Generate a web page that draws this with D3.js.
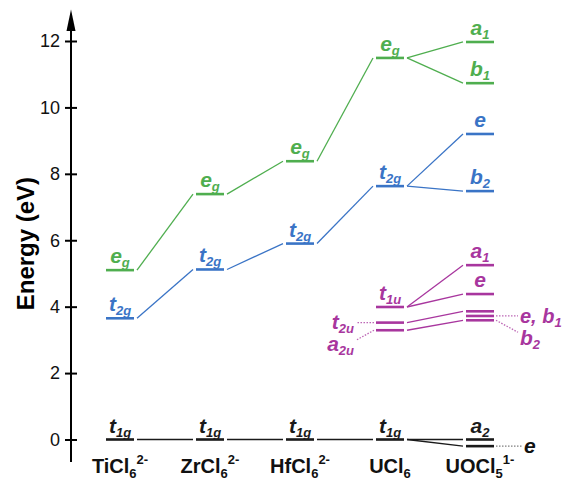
<!DOCTYPE html>
<html lang="en">
<head>
<meta charset="UTF-8">
<title>MO energy levels</title>
<script src="https://d3js.org/d3.v7.min.js"></script>
<style>
    body { margin: 0; background: white; }
    svg { font-family: "Liberation Sans", Arial, sans-serif; }
    .tick text { font-size: 18px; }
    .lab { font-weight: bold; font-style: italic; }
    .cmp { font-weight: bold; font-size: 20px; }
</style>
</head>
<body>
<script>
    const width = 564, height = 486;

    const compounds = ["TiCl6", "ZrCl6", "HfCl6", "UCl6", "UOCl5"];
    const cmpBase = ["TiCl", "ZrCl", "HfCl", "UCl", "UOCl"];
    const cmpSub = ["6", "6", "6", "6", "5"];
    const cmpSup = ["2-", "2-", "2-", "", "1-"];
    const yTicks = [0, 2, 4, 6, 8, 10, 12];

    // [compound, energy eV, label, subscript]  ('' label = labelled at side)
    const green = [
        ["TiCl6", 5.10, "e", "g"], ["ZrCl6", 7.39, "e", "g"], ["HfCl6", 8.38, "e", "g"],
        ["UCl6", 11.49, "e", "g"], ["UOCl5", 11.97, "a", "1"], ["UOCl5", 10.73, "b", "1"]
    ];
    const greenLinks = [[0, 1], [1, 2], [2, 3], [3, 4], [3, 5]];

    const blue = [
        ["TiCl6", 3.65, "t", "2g"], ["ZrCl6", 5.12, "t", "2g"], ["HfCl6", 5.90, "t", "2g"],
        ["UCl6", 7.63, "t", "2g"], ["UOCl5", 9.20, "e", ""], ["UOCl5", 7.48, "b", "2"]
    ];
    const blueLinks = [[0, 1], [1, 2], [2, 3], [3, 4], [3, 5]];

    const black = [
        ["TiCl6", 0, "t", "1g"], ["ZrCl6", 0, "t", "1g"], ["HfCl6", 0, "t", "1g"],
        ["UCl6", 0, "t", "1g"], ["UOCl5", 0, "a", "2"], ["UOCl5", -0.2, "", ""]
    ];
    const blackLinks = [[0, 1], [1, 2], [2, 3], [3, 4], [3, 5]];

    const purple = [
        ["UCl6", 3.99, "t", "1u"], ["UCl6", 3.52, "", ""], ["UCl6", 3.29, "", ""],
        ["UOCl5", 5.25, "a", "1"], ["UOCl5", 4.38, "e", ""],
        ["UOCl5", 3.86, "", ""], ["UOCl5", 3.72, "", ""], ["UOCl5", 3.59, "", ""]
    ];
    const purpleLinks = [[0, 3], [0, 4], [1, 5], [2, 7]];

    const series = [
        { lv: green, links: greenLinks, color: "#4fae4f" },
        { lv: blue, links: blueLinks, color: "#3a74c6" },
        { lv: black, links: blackLinks, color: "#1a1a1a" },
        { lv: purple, links: purpleLinks, color: "#a8369e" }
    ];

    const svg = d3.select("body").append("svg")
        .attr("width", width).attr("height", height);

    const x = d3.scalePoint().domain(compounds).range([120, 480]);
    const y = d3.scaleLinear().domain([0, 12]).range([439.5, 41]);
    const half = 14, gap = 3;

    // axis
    const axis = svg.append("g")
        .attr("transform", "translate(71,0)")
        .call(d3.axisLeft(y).tickValues(yTicks).tickSize(6).tickPadding(5));
    axis.select(".domain").remove();
    axis.selectAll(".tick line").attr("x1", -6).attr("x2", 6).attr("stroke-width", 2);
    axis.selectAll(".tick text").attr("fill", "#111");

    svg.append("line")
        .attr("x1", 71).attr("x2", 71)
        .attr("y1", y(-0.68)).attr("y2", y(12.5))
        .attr("stroke", "#000").attr("stroke-width", 2);
    svg.append("path")
        .attr("d", `M71,${y(12.95)} L66.5,${y(12.3)} L75.5,${y(12.3)} Z`)
        .attr("fill", "#000");

    svg.append("text")
        .attr("class", "cmp")
        .attr("transform", `translate(34,${y(5.9)}) rotate(-90)`)
        .attr("text-anchor", "middle")
        .style("font-size", "24px")
        .text("Energy (eV)");

    // levels, connectors, labels
    series.forEach(s => {
        const g = svg.append("g");
        g.selectAll("line.link").data(s.links).join("line")
            .attr("class", "link")
            .attr("x1", d => x(s.lv[d[0]][0]) + half + gap)
            .attr("y1", d => y(s.lv[d[0]][1]))
            .attr("x2", d => x(s.lv[d[1]][0]) - half - gap)
            .attr("y2", d => y(s.lv[d[1]][1]))
            .attr("stroke", s.color).attr("stroke-width", 1.3);

        g.selectAll("line.lvl").data(s.lv).join("line")
            .attr("class", "lvl")
            .attr("x1", d => x(d[0]) - half).attr("x2", d => x(d[0]) + half)
            .attr("y1", d => y(d[1])).attr("y2", d => y(d[1]))
            .attr("stroke", s.color).attr("stroke-width", 2.6);

        const t = g.selectAll("text").data(s.lv.filter(d => d[2])).join("text")
            .attr("class", "lab")
            .attr("x", d => x(d[0]))
            .attr("y", d => y(d[1]) - 7)
            .attr("text-anchor", "middle")
            .attr("fill", s.color);
        t.append("tspan").style("font-size", "21px").text(d => d[2]);
        t.append("tspan").style("font-size", "13px").attr("dy", 4).text(d => d[3]);
    });

    // side labels with dotted leaders
    const side = svg.append("g");
    function leader(x1, y1, x2, y2, color) {
        side.append("line")
            .attr("x1", x1).attr("y1", y1).attr("x2", x2).attr("y2", y2)
            .attr("stroke", color).attr("stroke-width", 1.3)
            .attr("stroke-dasharray", "1.5,1.5").attr("opacity", 0.75);
    }
    function sideLabel(tx, ty, anchor, main, sub, color, size) {
        const t = side.append("text").attr("class", "lab")
            .attr("x", tx).attr("y", ty).attr("text-anchor", anchor).attr("fill", color);
        t.append("tspan").style("font-size", (size || 21) + "px").text(main);
        if (sub) t.append("tspan").style("font-size", "13px").attr("dy", 4).text(sub);
    }
    const xu = x("UOCl5"), xc = x("UCl6"), pc = "#a8369e";

    leader(xu + half + 2, y(-0.2), xu + half + 28, y(-0.2), "#555");
    sideLabel(xu + half + 30, y(-0.2) + 7, "start", "e", "", "#111");

    leader(xu + half + 2, y(3.72), xu + half + 24, y(3.72), pc);
    sideLabel(xu + half + 26, y(3.72) + 7, "start", "e, b", "1", pc, 20);
    leader(xu + half + 2, y(3.59), xu + half + 24, y(3.59) + 12, pc);
    sideLabel(xu + half + 26, y(3.59) + 25, "start", "b", "2", pc);

    leader(xc - half - 2, y(3.52), xc - half - 20, y(3.52), pc);
    sideLabel(xc - half - 22, y(3.52) + 6, "end", "t", "2u", pc);
    leader(xc - half - 2, y(3.29), xc - half - 20, y(3.29) + 10, pc);
    sideLabel(xc - half - 22, y(3.29) + 21, "end", "a", "2u", pc);

    // compound labels
    const cl = svg.append("g").selectAll("text").data(compounds).join("text")
        .attr("class", "cmp")
        .attr("x", d => x(d))
        .attr("y", 473)
        .attr("text-anchor", "middle")
        .attr("fill", "#111");
    cl.append("tspan").text((d, i) => cmpBase[i]);
    cl.append("tspan").style("font-size", "13px").attr("dy", 5).text((d, i) => cmpSub[i]);
    cl.append("tspan").style("font-size", "13px").attr("dy", -14).text((d, i) => cmpSup[i]);
</script>
</body>
</html>
